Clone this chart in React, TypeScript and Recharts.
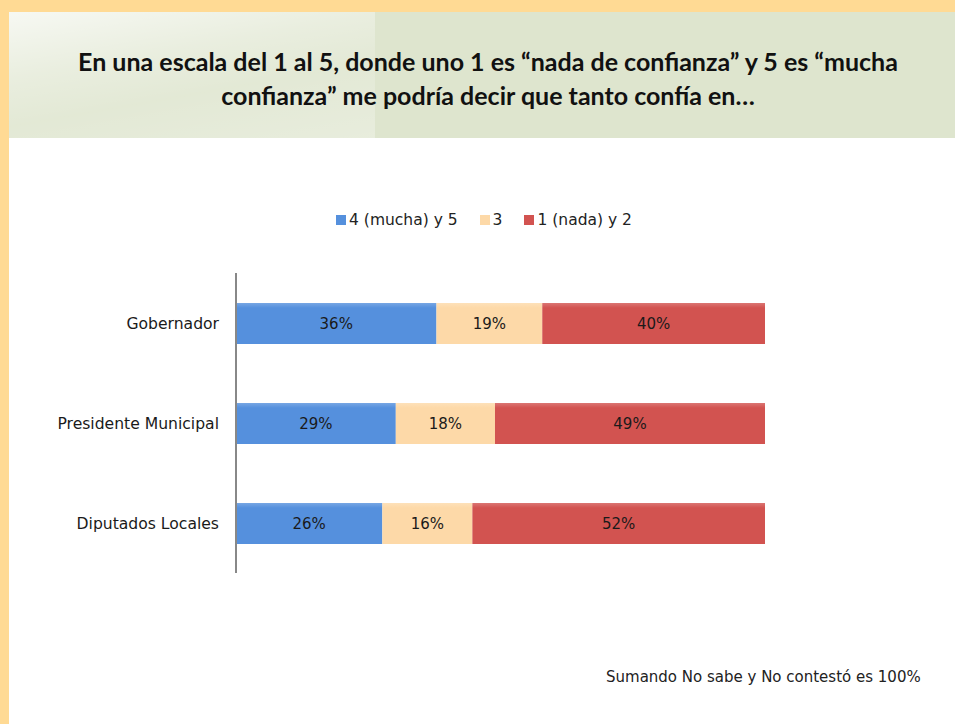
import React from "react";
import { BarChart, Bar, XAxis, YAxis, LabelList } from "recharts";

const categories = ["Gobernador", "Presidente Municipal", "Diputados Locales"];
const mucha = [36, 29, 26];
const tres = [19, 18, 16];
const nada = [40, 49, 52];
const seriesNames = ["4 (mucha) y 5", "3", "1 (nada) y 2"];
const seriesColors = ["#5590DD", "#FDD9A8", "#D25350"];
const titleLines = [
  "En una escala del 1 al 5, donde uno 1 es \u201cnada de confianza\u201d  y 5 es \u201cmucha",
  "confianza\u201d  me podr\u00eda decir que tanto conf\u00eda en\u2026",
];
const footnote = "Sumando No sabe y No contest\u00f3 es 100%";

const data = categories.map((name, i) => ({
  name,
  mucha: mucha[i],
  tres: tres[i],
  nada: nada[i],
}));

const keys = ["mucha", "tres", "nada"];
const FONT = "'DejaVu Sans', sans-serif";

export default function App() {
  return (
    <div
      style={{
        position: "absolute",
        left: 0,
        top: 0,
        width: 955,
        height: 724,
        background: "#FFFFFF",
        overflow: "hidden",
        fontFamily: FONT,
      }}
    >
      {/* orange frame */}
      <div style={{ position: "absolute", left: 0, top: 0, width: 955, height: 12, background: "#FFDA94" }} />
      <div style={{ position: "absolute", left: 0, top: 0, width: 9, height: 724, background: "#FFDA94" }} />
      {/* green header */}
      <div
        style={{
          position: "absolute",
          left: 9,
          top: 12,
          width: 946,
          height: 126,
          background: "#DEE5CE",
        }}
      />
      <div
        style={{
          position: "absolute",
          left: 9,
          top: 12,
          width: 366,
          height: 126,
          background:
            "linear-gradient(170deg, rgba(255,255,255,0.75) 0%, rgba(255,255,255,0.35) 35%, rgba(255,255,255,0.15) 60%, rgba(255,255,255,0.3) 100%)",
        }}
      />
      <div
        style={{
          position: "absolute",
          left: 15,
          top: 44,
          width: 946,
          textAlign: "center",
          fontFamily: "'Lato', sans-serif",
          fontWeight: "bold",
          fontSize: 25,
          lineHeight: "34px",
          color: "#111",
        }}
      >
        <div>{titleLines[0]}</div>
        <div>{titleLines[1]}</div>
      </div>

      {/* legend */}
      <div
        style={{
          position: "absolute",
          left: 0,
          top: 211,
          width: 968,
          display: "flex",
          justifyContent: "center",
          fontSize: 15.5,
          color: "#222",
        }}
      >
        {seriesNames.map((n, i) => (
          <div key={n} style={{ display: "flex", alignItems: "center", marginRight: i < 2 ? 22 : 0 }}>
            <div style={{ width: 10, height: 10, background: seriesColors[i], marginRight: 3 }} />
            <span>{n}</span>
          </div>
        ))}
      </div>

      <div style={{ position: "absolute", left: 0, top: 0 }}>
        <BarChart
          width={955}
          height={724}
          data={data}
          layout="vertical"
          stackOffset="expand"
          margin={{ top: 273, right: 190, bottom: 151, left: 0 }}
          barSize={41}
        >
          <defs>
            {keys.map((k, i) => (
              <linearGradient key={k} id={"g" + k} x1="0" y1="0" x2="0" y2="1">
                <stop offset="0%" stopColor={seriesColors[i]} stopOpacity={0.8} />
                <stop offset="12%" stopColor={seriesColors[i]} stopOpacity={1} />
                <stop offset="100%" stopColor={seriesColors[i]} stopOpacity={1} />
              </linearGradient>
            ))}
          </defs>
          <XAxis type="number" hide domain={[0, 1]} />
          <YAxis
            type="category"
            dataKey="name"
            width={236}
            axisLine={{ stroke: "#888888", strokeWidth: 2 }}
            tickLine={false}
            tickSize={0}
            tickMargin={17}
            tick={{ fontSize: 15.6, fill: "#1a1a1a", fontFamily: FONT }}
          />
          {keys.map((k, i) => (
            <Bar
              key={k}
              dataKey={k}
              stackId="a"
              name={seriesNames[i]}
              fill={"url(#g" + k + ")"}
              isAnimationActive={false}
            >
              <LabelList
                dataKey={k}
                position="center"
                formatter={(v: any) => v + "%"}
                style={{ fontSize: 15, fill: "#1a1a1a", fontFamily: FONT }}
              />
            </Bar>
          ))}
        </BarChart>
      </div>

      <div
        style={{
          position: "absolute",
          left: 606,
          top: 668,
          fontSize: 15,
          color: "#222",
          whiteSpace: "nowrap",
        }}
      >
        {footnote}
      </div>
    </div>
  );
}
